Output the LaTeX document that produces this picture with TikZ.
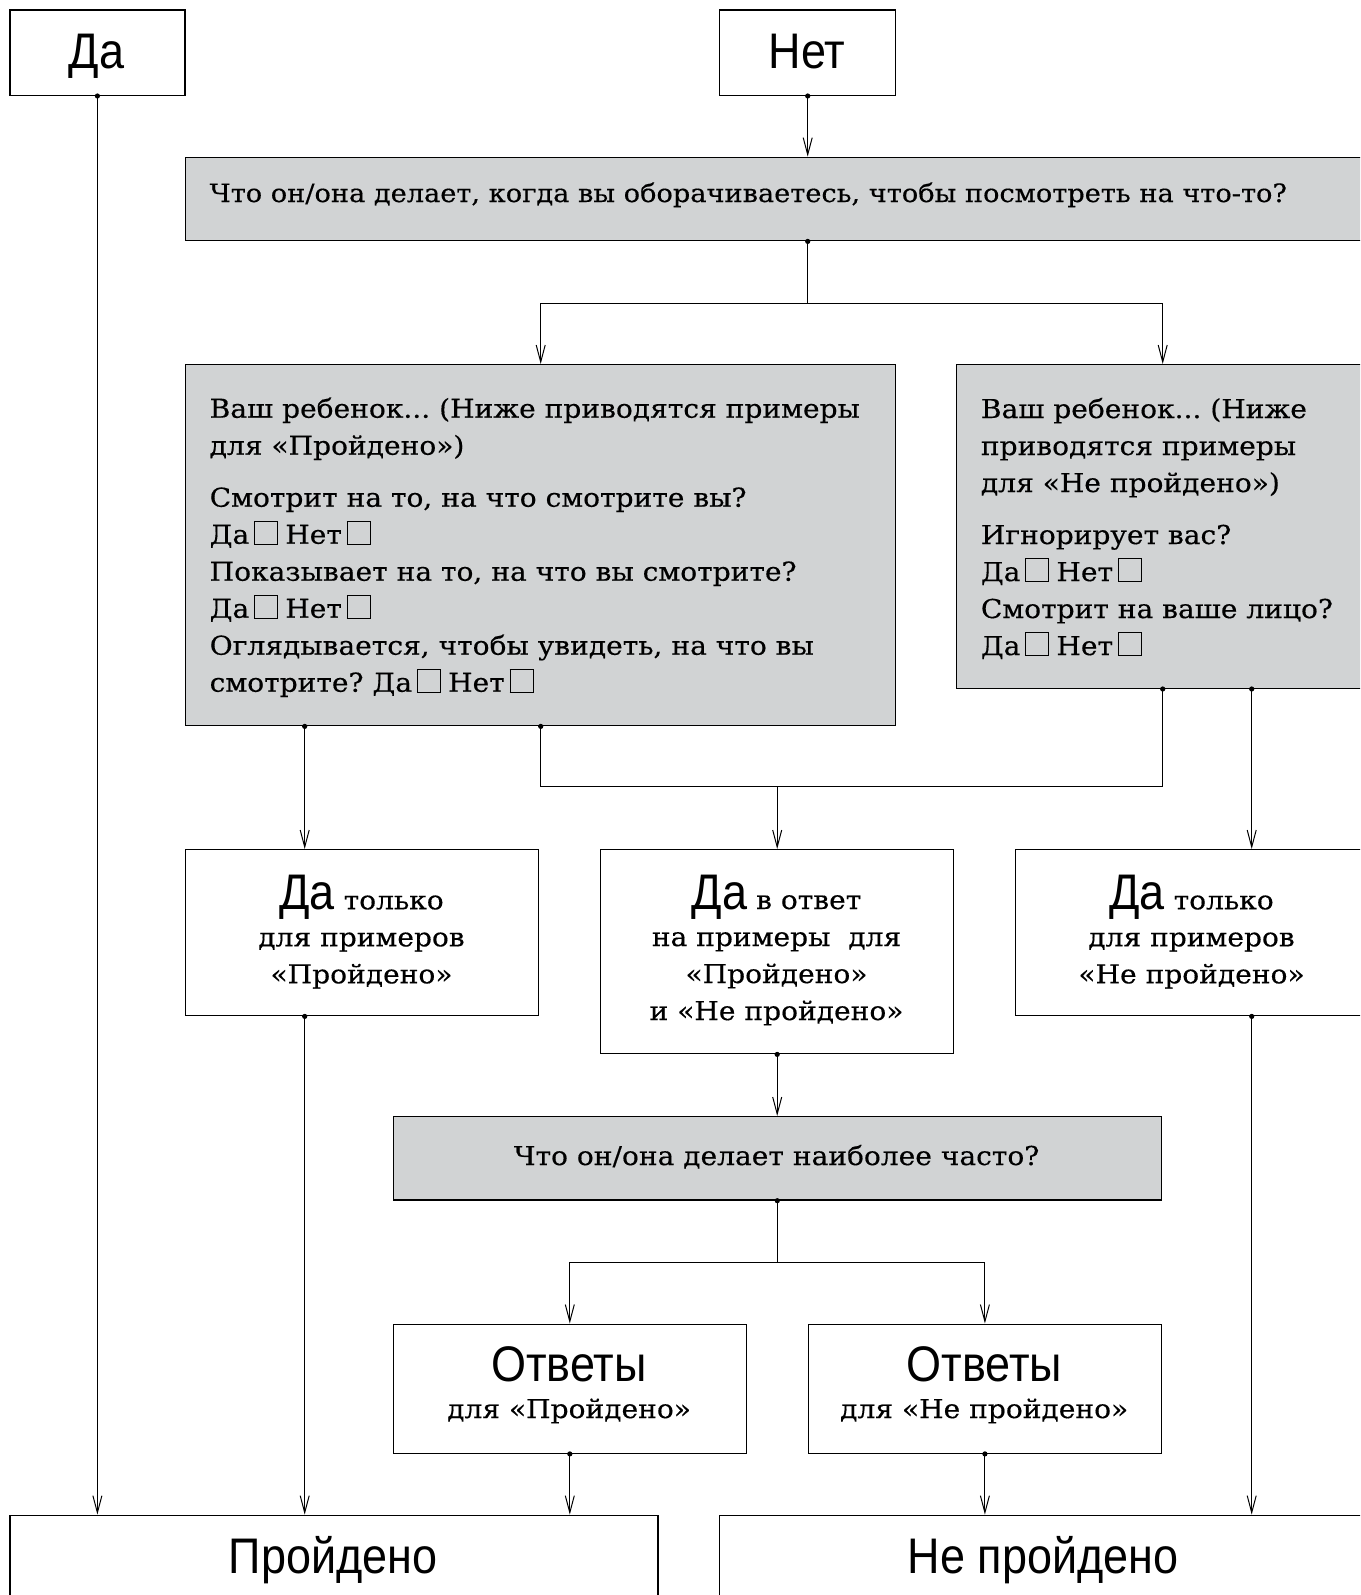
\documentclass[tikz,border=0pt]{standalone}
\usepackage{fontspec}
\setmainfont[FakeStretch=1.08,FakeBold=0.4]{DejaVu Serif}
\newfontfamily\headfont[FakeStretch=0.9]{Liberation Sans}
\usetikzlibrary{arrows.meta}
\definecolor{panelgray}{RGB}{209,211,212}
\frenchspacing
% empty answer checkbox
\newcommand{\chk}{\hspace{5pt}{\setlength{\fboxsep}{0pt}\setlength{\fboxrule}{1pt}\fbox{\rule{0pt}{22pt}\hspace{22pt}}}\hspace{7pt}}
\newcommand{\bigword}[1]{{\headfont\fontsize{50}{60}\selectfont #1}}
\tikzset{
  box/.style={draw, line width=1.4pt, fill=white, inner sep=0pt, anchor=north west},
  graybox/.style={box, fill=panelgray},
  body/.style={font=\fontsize{26}{37}\selectfont, inner sep=0pt},
  head/.style={font=\headfont\fontsize{50}{60}\selectfont, inner sep=0pt},
  link/.style={line width=1pt, -{Straight Barb[length=17pt,width=9pt,line width=1pt]}},
  plain/.style={line width=1pt},
}
\newcommand{\srcdot}[1]{\fill #1 circle (2.6pt);}
\begin{document}
\begin{tikzpicture}[x=1pt,y=-1pt]
\clip (0,0) rectangle (1360,1595);
\fill[white] (0,0) rectangle (1360,1595);

% ---- boxes ----
\node[box, minimum width=175, minimum height=85.4] (da) at (9.2,9.2) {};
\node[box, minimum width=176, minimum height=85.4] (nb) at (719,9.2) {};
\node[graybox, minimum width=1183, minimum height=83.4] (q1) at (185,156.6) {};
\node[graybox, minimum width=710, minimum height=361] (lg) at (185,364) {};
\node[graybox, minimum width=412, minimum height=323.6] (rg) at (956,364) {};
\node[box, minimum width=353, minimum height=166] (yesP) at (185,849) {};
\node[box, minimum width=353, minimum height=204] (mid) at (600,849) {};
\node[box, minimum width=353, minimum height=166] (yesF) at (1015,849) {};
\node[graybox, minimum width=768, minimum height=83.3] (q2) at (392.6,1116) {};
\node[box, minimum width=353, minimum height=129] (ansL) at (392.6,1323.5) {};
\node[box, minimum width=353, minimum height=129] (ansR) at (807.7,1323.5) {};
\node[box, minimum width=648, minimum height=120] (pass) at (9.2,1514.6) {};
\node[box, minimum width=649, minimum height=120] (fail) at (719,1514.6) {};

% ---- texts (multi-line nodes are anchored at their last baseline) ----
\node[head, anchor=base] (daT) at (96.6,68.3) {Да};
\node[head, anchor=base] (nbT) at (807,68.3) {Нет};
\node[body, font=\fontsize{25.2}{37}\selectfont, anchor=base west] (q1T) at (209.5,202) {Что он/она делает, когда вы оборачиваетесь, чтобы посмотреть на что-то?};
\node[body, anchor=base west, align=left] (lgT) at (209.5,691.7) {%
Ваш ребенок... (Ниже приводятся примеры\\
для «Пройдено»)\\[15pt]
Смотрит на то, на что смотрите вы?\\
Да\chk Нет\chk\\
Показывает на то, на что вы смотрите?\\
Да\chk Нет\chk\\
Оглядывается, чтобы увидеть, на что вы\\
смотрите? Да\chk Нет\chk};
\node[body, anchor=base west, align=left] (rgT) at (980.7,655) {%
Ваш ребенок... (Ниже\\
приводятся примеры\\
для «Не пройдено»)\\[15pt]
Игнорирует вас?\\
Да\chk Нет\chk\\
Смотрит на ваше лицо?\\
Да\chk Нет\chk};
\node[body, anchor=base, align=center] (yesPT) at (361.5,983.3) {\bigword{Да} только\\для примеров\\«Пройдено»};
\node[body, anchor=base, align=center] (midT) at (776.5,1020) {\bigword{Да} в ответ\\на примеры~ для\\«Пройдено»\\и «Не пройдено»};
\node[body, anchor=base, align=center] (yesFT) at (1191.5,983.3) {\bigword{Да} только\\для примеров\\«Не пройдено»};
\node[body, anchor=base] (q2T) at (776.6,1165) {Что он/она делает наиболее часто?};
\node[body, anchor=base, align=center] (ansLT) at (569.1,1418) {\bigword{Ответы}\\для «Пройдено»};
\node[body, anchor=base, align=center] (ansRT) at (984.2,1418) {\bigword{Ответы}\\для «Не пройдено»};
\node[head, anchor=base] (passT) at (333,1573.3) {Пройдено};
\node[head, anchor=base] (failT) at (1043,1573.3) {Не пройдено};

% ---- connectors ----
\coordinate (q1out) at (nb.south |- q1.south);
\coordinate (fork1) at ([yshift=-62pt]q1out);
\coordinate (join) at ([yshift=62.7pt]mid.north);
\coordinate (fork2) at ([yshift=-62pt]q2.south);
\coordinate (yesPin) at ([xshift=-57.5pt]yesP.north);
\coordinate (yesFin) at ([xshift=59.5pt]yesF.north);

\draw[link] (da.south) -- (da.south |- pass.north);
\draw[link] (nb.south) -- (q1out |- q1.north);
\draw[plain] (q1out) -- (fork1);
\draw[link] (fork1) -| (lg.north);
\draw[link] (fork1) -| (rg.north);
\draw[link] (yesPin |- lg.south) -- (yesPin);
\draw[plain] (lg.south) |- (join) -| (rg.south);
\draw[link] (join) -- (mid.north);
\draw[link] (yesFin |- rg.south) -- (yesFin);
\draw[link] (yesPin |- yesP.south) -- (yesPin |- pass.north);
\draw[link] (mid.south) -- (mid.south |- q2.north);
\draw[plain] (q2.south) -- (fork2);
\draw[link] (fork2) -| (ansL.north);
\draw[link] (fork2) -| (ansR.north);
\draw[link] (ansL.south) -- (ansL.south |- pass.north);
\draw[link] (ansR.south) -- (ansR.south |- fail.north);
\draw[link] (yesFin |- yesF.south) -- (yesFin |- fail.north);

% ---- source dots ----
\srcdot{(da.south)}
\srcdot{(nb.south)}
\srcdot{(q1out)}
\srcdot{(yesPin |- lg.south)}
\srcdot{(lg.south)}
\srcdot{(rg.south)}
\srcdot{(yesFin |- rg.south)}
\srcdot{(yesPin |- yesP.south)}
\srcdot{(mid.south)}
\srcdot{(yesFin |- yesF.south)}
\srcdot{(q2.south)}
\srcdot{(ansL.south)}
\srcdot{(ansR.south)}
\end{tikzpicture}
\end{document}
